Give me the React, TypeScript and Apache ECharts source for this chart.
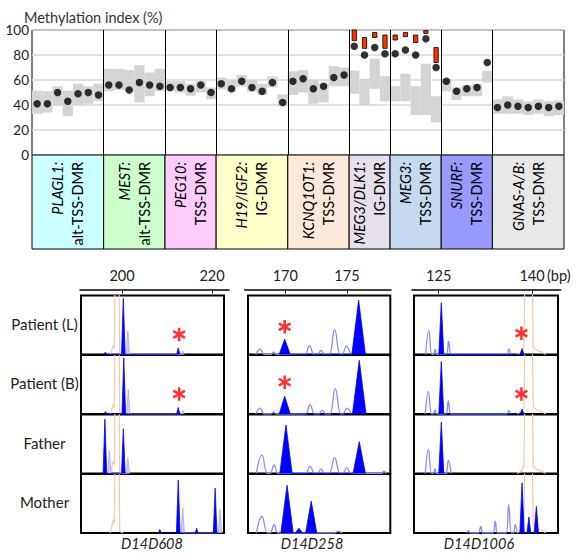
import React, { useEffect, useRef } from 'react';
import * as echarts from 'echarts';

// ---------- Top panel data ----------
const GROUP_GENES = ['PLAGL1:', 'MEST:', 'PEG10:', 'H19/IGF2:', 'KCNQ1OT1:', 'MEG3/DLK1:', 'MEG3:', 'SNURF:', 'GNAS-A/B:'];
const GROUP_REGIONS = ['alt-TSS-DMR', 'alt-TSS-DMR', 'TSS-DMR', 'IG-DMR', 'TSS-DMR', 'IG-DMR', 'TSS-DMR', 'TSS-DMR', 'TSS-DMR'];
const GROUP_SIZES = [7, 6, 5, 7, 6, 4, 5, 5, 7];
const GROUP_COLORS = ['#ccffff', '#ccffcc', '#ffccff', '#ffffcc', '#fde9d9', '#e6e0ec', '#c5d9f1', '#9999ff', '#e8e8e8'];

// patient methylation index (black dots), one per CpG site
const PATIENT_MI = [
  41, 41, 50, 43, 49, 50, 48,
  56, 56, 52, 58, 56, 55,
  54, 54, 53, 56, 50,
  57, 53, 59, 54, 51, 58, 42,
  59, 61, 53, 55, 62, 64,
  87, 80, 86, 81,
  81, 84, 80, 93, 70,
  59, 51, 53, 54, 74,
  38, 40, 39, 38, 39, 38, 39,
];
// control range (grey boxes)
const CONTROL_LOW = [
  33, 34, 39.5, 31, 40, 41, 43,
  51, 52, 51, 42, 47, 51,
  51, 50, 47.5, 50, 44.5,
  52.5, 50.7, 54.7, 50.7, 48, 54, 39,
  48, 50, 41, 42, 55, 55,
  49, 40, 53, 43,
  43, 43, 32, 32, 26,
  51, 44, 47, 47, 58,
  33, 33, 33, 32, 33, 31, 32,
];
const CONTROL_HIGH = [
  51.5, 51, 55, 51.5, 57, 55, 57,
  69, 69, 68, 72, 66, 69,
  59, 59, 57, 59, 54,
  62, 60, 64, 60, 57, 63, 48.5,
  67, 68, 60, 57, 71, 70,
  67.5, 61, 77, 63,
  55, 65, 55, 73, 47,
  61, 54, 56, 57, 67.5,
  44.5, 47, 44.5, 43, 44.5, 43, 43.5,
];
// red bars (other samples) at MEG3/DLK1 and MEG3 sites
const RED_SITES = [31, 32, 33, 34, 35, 36, 37, 38, 39];
const RED_LOW = [91.5, 85.3, 94, 85.3, 92, 94.7, 90, 97.3, 74];
const RED_HIGH = [100, 94, 98, 96, 96, 98, 96, 99.5, 86];

// ---------- Bottom panel data ----------
const MARKERS = ['D14D608', 'D14D258', 'D14D1006'];
const SAMPLES = ['Patient (L)', 'Patient (B)', 'Father', 'Mother'];
const BP_TICKS = [[200, 220], [170, 175], [125, 140]];

// peaks: [size (bp), height (% of panel), half base width (bp)]
const D14D608_FILLED = [
  [[196.3, 4, 0.3], [200.3, 95, 0.4], [212.5, 11, 0.35]],
  [[196.3, 4, 0.3], [200.4, 95, 0.4], [212.5, 11, 0.35]],
  [[196.2, 92, 0.4], [200.3, 76, 0.4]],
  [[208.4, 6, 0.3], [212.5, 90, 0.4], [216.6, 8, 0.3], [220.7, 76, 0.4]],
];
const D14D608_LIGHT = [
  [[201.3, 40, 0.35], [213.5, 6, 0.3]],
  [[201.4, 41, 0.35], [213.5, 6, 0.3]],
  [[197.2, 39, 0.35], [201.3, 27, 0.35]],
  [[213.5, 42, 0.35], [221.8, 40, 0.35]],
];
const D14D608_ORANGE = [
  [[197.4, 0], [198.05, 15], [198.3, 10], [198.9, 500], [199.5, 3], [200.2, 0]],
  [[197.4, 0], [198.05, 16], [198.3, 11], [198.9, 500], [199.5, 3], [200.2, 0]],
  [[197.4, 0], [198.05, 21], [198.3, 15], [198.9, 500], [199.5, 3], [200.2, 0]],
  [[197.4, 0], [198.05, 22], [198.3, 16], [198.9, 500], [199.5, 3], [200.2, 0]],
];
const D14D258_FILLED = [
  [[169.95, 26, 0.45], [175.95, 92, 0.55]],
  [[169.95, 30, 0.45], [176.0, 91, 0.55]],
  [[170.05, 82, 0.5], [176.0, 54, 0.5]],
  [[170.14, 81, 0.5], [171.1, 8, 0.3], [172.1, 54, 0.45]],
];
const D14D258_LIGHT = [
  [[167.95, 9, 0.35], [169.05, 4, 0.25], [171.95, 15, 0.4], [172.9, 7, 0.3], [174.0, 42, 0.45], [174.95, 14, 0.35]],
  [[167.95, 10, 0.35], [169.05, 3, 0.25], [172.0, 16, 0.4], [173.0, 6, 0.3], [174.05, 43, 0.45], [175.0, 10, 0.35]],
  [[168.1, 31, 0.45], [169.1, 14, 0.35], [172.0, 12, 0.4], [172.9, 8, 0.3], [174.0, 27, 0.45], [175.0, 10, 0.35], [178.0, 4, 0.2]],
  [[168.1, 28, 0.45], [169.1, 14, 0.35], [174.3, 3, 0.3]],
];
const D14D1006_FILLED = [
  [[125.42, 88, 0.4], [138.4, 10, 0.3]],
  [[125.42, 89, 0.4], [138.4, 8, 0.3]],
  [[125.42, 87, 0.4]],
  [[138.4, 85, 0.35], [139.5, 27, 0.3], [140.7, 45, 0.35]],
];
const D14D1006_LIGHT = [
  [[123.4, 41, 0.5], [124.45, 9, 0.3], [126.6, 22, 0.45], [136.25, 9, 0.35]],
  [[123.35, 38, 0.5], [124.4, 7, 0.3], [126.55, 22, 0.45], [136.25, 6, 0.35]],
  [[123.35, 41, 0.5], [124.4, 8, 0.3], [126.55, 22, 0.45]],
  [[129.8, 4, 0.3], [131.75, 11, 0.4], [134.1, 20, 0.4], [136.25, 48, 0.45], [137.3, 14, 0.3]],
];
const D14D1006_ORANGE = [
  [[137.6, 0], [138.3, 4], [138.7, 12], [139.45, 600], [140.2, 12], [140.8, 7], [141.6, 4], [142.2, 0]],
  [[137.6, 0], [138.3, 4], [138.7, 12], [139.45, 600], [140.2, 12], [140.8, 7], [141.6, 4], [142.2, 0]],
  [[137.6, 0], [138.3, 4], [138.7, 12], [139.45, 600], [140.2, 12], [140.8, 7], [141.6, 4], [142.2, 0]],
  [[137.6, 0], [138.3, 5], [138.7, 14], [139.45, 600], [140.2, 14], [140.8, 9], [141.6, 5], [142.2, 0]],
];
// asterisks: [marker, sample, size (bp), level (%)]
const ASTERISKS = [[0, 0, 212.7, 34], [0, 1, 212.7, 34], [1, 0, 169.95, 47], [1, 1, 169.95, 54], [2, 0, 138.3, 36], [2, 1, 138.3, 34]];

const FILLED = [D14D608_FILLED, D14D258_FILLED, D14D1006_FILLED];
const LIGHT = [D14D608_LIGHT, D14D258_LIGHT, D14D1006_LIGHT];
const ORANGE = [D14D608_ORANGE, null, D14D1006_ORANGE];

// ---------- layout ----------
const COL_LEFT = [81, 248, 414];
const COL_WIDTH = [143, 142.3, 144];
const COL_BP = [[190.89, 222.67], [166.97, 178.52], [121.03, 144.18]];
const AXIS_LEFT = [80, 244.7, 412];
const AXIS_WIDTH = [149, 146.3, 148.7];
const AXIS_BP = [[190.67, 223.78], [166.71, 178.57], [120.71, 144.61]];
const ROW_TOP = [295.5, 355, 414.5, 474];
const ROW_H = 59;
const LABEL_X = [152, 312, 479];

const FONT = 'Lato';
const ASTERISK_PATH = 'path://M-1.5,-8L1.5,-8L1.5,8L-1.5,8Z M6.178,-5.299L7.678,-2.701L-6.178,5.299L-7.678,2.701Z M-7.678,-2.701L-6.178,-5.299L7.678,2.701L6.178,5.299Z';

function peakPoints(peaks: number[][]) {
  const s = [...peaks].sort((a, b) => a[0] - b[0]);
  const out: number[][] = [];
  s.forEach(([c, h, w]) => {
    out.push([c - w, 0], [c, h], [c + w, 0]);
  });
  return out;
}

function buildOption() {
  const total = GROUP_SIZES.reduce((a, b) => a + b, 0);
  const starts: number[] = [];
  let acc = 0;
  GROUP_SIZES.forEach((n) => { starts.push(acc); acc += n; });
  const bounds = GROUP_SIZES.map((n, k) => starts[k] + n).slice(0, -1);

  const grids: any[] = [];
  const xAxes: any[] = [];
  const yAxes: any[] = [];
  const series: any[] = [];

  // grid 0: methylation chart
  grids.push({ left: 32, top: 30, width: 532, height: 125, show: true, borderColor: '#000', borderWidth: 1 });
  xAxes.push({ gridIndex: 0, type: 'value', min: 0, max: total, show: false });
  yAxes.push({
    gridIndex: 0, type: 'value', min: 0, max: 100, interval: 20,
    axisLine: { show: false }, axisTick: { show: false },
    axisLabel: { fontSize: 13.5, color: '#222', margin: 3, fontFamily: FONT },
    splitLine: { lineStyle: { color: '#d9d9d9', width: 1.5 } },
  });
  // grid 1: region label boxes
  grids.push({ left: 32, top: 155, width: 532, height: 94, show: false });
  xAxes.push({ gridIndex: 1, type: 'value', min: 0, max: total, show: false });
  yAxes.push({ gridIndex: 1, type: 'value', min: 0, max: 1, show: false });

  // grids 2-4: bp axes
  for (let c = 0; c < 3; c++) {
    grids.push({ left: AXIS_LEFT[c], top: 288.5, width: AXIS_WIDTH[c], height: 1, show: false });
    xAxes.push({
      gridIndex: 2 + c, type: 'value', position: 'top', min: AXIS_BP[c][0], max: AXIS_BP[c][1],
      axisLine: { show: true, lineStyle: { color: '#000', width: 1.5 } },
      axisTick: { show: true, inside: true, length: 4, customValues: BP_TICKS[c], lineStyle: { color: '#000', width: 1 } },
      axisLabel: { show: true, customValues: BP_TICKS[c], fontSize: 14.5, color: '#222', fontFamily: FONT, margin: 6 },
      splitLine: { show: false },
    });
    yAxes.push({ gridIndex: 2 + c, type: 'value', show: false });
  }
  // panels
  for (let c = 0; c < 3; c++) {
    for (let r = 0; r < 4; r++) {
      const gi = grids.length;
      grids.push({ left: COL_LEFT[c], top: ROW_TOP[r], width: COL_WIDTH[c], height: ROW_H, show: true, borderColor: '#000', borderWidth: 2 });
      xAxes.push({ gridIndex: gi, type: 'value', min: COL_BP[c][0], max: COL_BP[c][1], show: false });
      yAxes.push({ gridIndex: gi, type: 'value', min: 0, max: 100, show: false });
      const orange = ORANGE[c];
      if (orange) {
        series.push({
          type: 'line', xAxisIndex: gi, yAxisIndex: gi, data: orange[r], showSymbol: false, clip: true,
          lineStyle: { color: '#f9c7a3', width: 1.2 }, z: 2,
        });
      }
      series.push({
        type: 'line', xAxisIndex: gi, yAxisIndex: gi, data: peakPoints(LIGHT[c][r]), showSymbol: false, clip: true,
        smooth: c === 0 ? false : 0.45,
        lineStyle: { color: c === 0 ? '#b0b0ff' : '#8a8aff', width: c === 0 ? 1 : 1.3 },
        areaStyle: c === 0 ? { color: '#c4c4ff', opacity: 0.8 } : undefined,
        z: 3,
      });
      series.push({
        type: 'line', xAxisIndex: gi, yAxisIndex: gi, data: peakPoints(FILLED[c][r]), showSymbol: false, clip: true,
        lineStyle: { color: '#0000ff', width: 0.8 }, areaStyle: { color: '#0000ff', opacity: 1 }, z: 4,
      });
      const ast = ASTERISKS.filter((a) => a[0] === c && a[1] === r).map((a) => [a[2], a[3]]);
      if (ast.length) {
        series.push({
          type: 'scatter', xAxisIndex: gi, yAxisIndex: gi, data: ast, symbol: ASTERISK_PATH,
          symbolSize: [13, 13.5], itemStyle: { color: '#ff0000' }, z: 5, silent: true,
        });
      }
    }
  }

  // top chart series
  series.push({
    type: 'custom', xAxisIndex: 0, yAxisIndex: 0, z: 2,
    data: PATIENT_MI.map((_, i) => [i, CONTROL_LOW[i], CONTROL_HIGH[i]]),
    renderItem: (params: any, api: any) => {
      const i = api.value(0);
      const p0 = api.coord([i, api.value(2)]);
      const p1 = api.coord([i + 1, api.value(1)]);
      return { type: 'rect', shape: { x: p0[0], y: p0[1], width: p1[0] - p0[0], height: p1[1] - p0[1] }, style: { fill: '#d4d4d4' } };
    },
  });
  series.push({
    type: 'custom', xAxisIndex: 0, yAxisIndex: 0, z: 4,
    data: RED_SITES.map((s, k) => [s, RED_LOW[k], RED_HIGH[k]]),
    renderItem: (params: any, api: any) => {
      const i = api.value(0);
      const p0 = api.coord([i + 0.29, api.value(2)]);
      const p1 = api.coord([i + 0.71, api.value(1)]);
      return { type: 'rect', shape: { x: p0[0], y: p0[1], width: p1[0] - p0[0], height: p1[1] - p0[1] }, style: { fill: '#ff3300', stroke: '#000', lineWidth: 0.8 } };
    },
  });
  series.push({
    type: 'scatter', xAxisIndex: 0, yAxisIndex: 0, z: 5,
    data: PATIENT_MI.map((v, i) => [i + 0.5, v]),
    symbolSize: 7.5, itemStyle: { color: '#000' },
    markLine: {
      silent: true, symbol: 'none', label: { show: false },
      lineStyle: { color: '#000', width: 1, type: 'solid' },
      data: bounds.map((b) => ({ xAxis: b })),
    },
  });
  series.push({
    type: 'custom', xAxisIndex: 1, yAxisIndex: 1, z: 2,
    data: GROUP_SIZES.map((n, k) => [starts[k], starts[k] + n, k]),
    renderItem: (params: any, api: any) => {
      const k = api.value(2);
      const p0 = api.coord([api.value(0), 1]);
      const p1 = api.coord([api.value(1), 0]);
      return {
        type: 'group',
        children: [
          { type: 'rect', shape: { x: p0[0], y: p0[1], width: p1[0] - p0[0], height: p1[1] - p0[1] }, style: { fill: GROUP_COLORS[k], stroke: '#000', lineWidth: 1 } },
          {
            type: 'text', x: (p0[0] + p1[0]) / 2, y: p0[1] + 7, rotation: Math.PI / 2,
            style: {
              text: `{i|${GROUP_GENES[k]}}\n{n|${GROUP_REGIONS[k]}}`,
              align: 'right', verticalAlign: 'middle',
              rich: {
                i: { fontStyle: 'italic', fontSize: 14.5, fontFamily: FONT, lineHeight: 20, fill: '#000', align: 'right' },
                n: { fontSize: 14.5, fontFamily: FONT, lineHeight: 20, fill: '#000', align: 'right' },
              },
            },
          },
        ],
      };
    },
  });

  const graphic: any[] = [];
  SAMPLES.forEach((s, r) => {
    graphic.push({ type: 'text', x: 44.5, y: ROW_TOP[r] + ROW_H / 2 - 1.5, style: { text: s, fontSize: 15, fontFamily: FONT, fill: '#222', align: 'center', verticalAlign: 'middle' } });
  });
  MARKERS.forEach((m, c) => {
    graphic.push({ type: 'text', x: LABEL_X[c], y: 543, style: { text: m, fontSize: 14.5, fontStyle: 'italic', fontFamily: FONT, fill: '#222', align: 'center', verticalAlign: 'middle' } });
  });
  graphic.push({ type: 'text', x: 547, y: 275, style: { text: '(bp)', fontSize: 14.5, fontFamily: FONT, fill: '#222', align: 'left', verticalAlign: 'middle' } });

  return {
    animation: false,
    title: { text: 'Methylation index (%)', left: 19, top: 5, textStyle: { fontSize: 14.5, fontWeight: 'normal', fontFamily: FONT, color: '#333' } },
    grid: grids,
    xAxis: xAxes,
    yAxis: yAxes,
    series,
    graphic,
  };
}

export default function App() {
  const ref = useRef<HTMLDivElement>(null);
  useEffect(() => {
    document.body.style.margin = '0';
    if (!ref.current) return;
    const chart = echarts.init(ref.current, undefined, { renderer: 'svg' });
    chart.setOption(buildOption() as any);
    return () => chart.dispose();
  }, []);
  return <div ref={ref} style={{ width: 576, height: 554, background: '#fff' }} />;
}
